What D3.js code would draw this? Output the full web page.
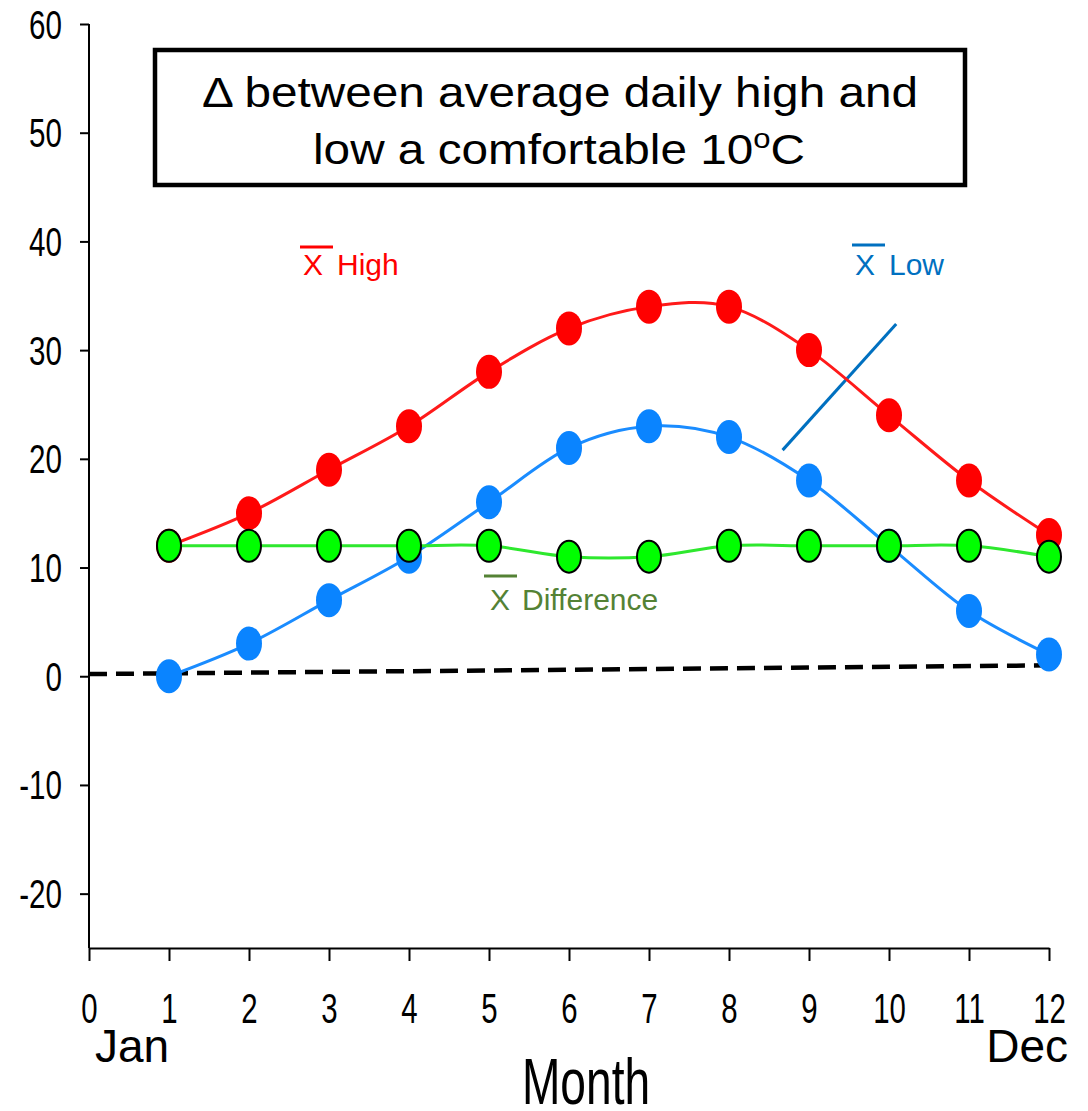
<!DOCTYPE html>
<html>
<head>
<meta charset="utf-8">
<script src="https://cdn.jsdelivr.net/npm/d3@7"></script>
<style>
  body { margin: 0; background: #fff; }
  svg { display: block; }
  text { font-family: "Liberation Sans", Arial, sans-serif; }
</style>
</head>
<body>
<div id="chart"></div>
<script>
// month index 1..12
const months = [1, 2, 3, 4, 5, 6, 7, 8, 9, 10, 11, 12];
const highs = [12, 15, 19, 23, 28, 32, 34, 34, 30, 24, 18, 13];
const lows = [0, 3, 7, 11, 16, 21, 23, 22, 18, 12, 6, 2];
const diffs = [12, 12, 12, 12, 12, 11, 11, 12, 12, 12, 12, 11];
// dashed trend line end points
const trendX = [0, 12];
const trendY = [0.2, 1.0];
// pointer line next to the "Low" label
const pointerX = [8.67, 10.09];
const pointerY = [20.8, 32.4];
const xTicks = [0, 1, 2, 3, 4, 5, 6, 7, 8, 9, 10, 11, 12];
const yTicks = [-20, -10, 0, 10, 20, 30, 40, 50, 60];

const width = 1088,
    height = 1111;

const svg = d3.select('#chart').append('svg')
    .attr('width', width)
    .attr('height', height);

const x = d3.scaleLinear().domain([0, 12]).range([89, 1049]);
const y = d3.scaleLinear().domain([-25, 60]).range([948, 24]);

// condensed text helper (narrow look of the original)
function narrow(sel, px, py, sx) {
    sel.attr('transform', `translate(${px},${py}) scale(${sx},1)`);
}

// y axis
const yAxis = svg.append('g')
    .attr('transform', `translate(${x(0)},0)`)
    .call(d3.axisLeft(y).tickValues(yTicks).tickSize(9).tickSizeOuter(0).tickFormat(d3.format('d')));
yAxis.select('.domain').attr('stroke', '#000').attr('stroke-width', 2)
    .attr('d', `M0,${y(60)}V${y(-25)}`);
yAxis.selectAll('.tick line').attr('stroke', '#000').attr('stroke-width', 2);
yAxis.selectAll('.tick text').remove();
yAxis.selectAll('.tick').append('text')
    .attr('text-anchor', 'end')
    .attr('dy', '0.35em')
    .attr('fill', '#000')
    .style('font-size', '40px')
    .text(d => d)
    .each(function () { narrow(d3.select(this), -27, 0, 0.74); });

// x axis
const xAxis = svg.append('g')
    .attr('transform', `translate(0,${y(-25)})`)
    .call(d3.axisBottom(x).tickValues(xTicks).tickSize(13).tickSizeOuter(0).tickFormat(d3.format('d')));
xAxis.select('.domain').attr('stroke', '#000').attr('stroke-width', 2);
xAxis.selectAll('.tick line').attr('stroke', '#000').attr('stroke-width', 2);
xAxis.selectAll('.tick text').remove();
xAxis.selectAll('.tick').append('text')
    .attr('text-anchor', 'middle')
    .attr('fill', '#000')
    .style('font-size', '42px')
    .text(d => d)
    .each(function () { narrow(d3.select(this), 0, 75, 0.7); });

svg.append('text').attr('x', 95).attr('y', 1062)
    .style('font-size', '46px').text('Jan');
svg.append('text').attr('x', 1068).attr('y', 1062)
    .attr('text-anchor', 'end')
    .style('font-size', '46px').text('Dec');
svg.append('text')
    .attr('text-anchor', 'middle')
    .style('font-size', '65px')
    .text('Month')
    .call(narrow, 586, 1104, 0.71);

// cut-off y axis title at the left edge
svg.append('text')
    .attr('transform', `translate(3,450) rotate(-90)`)
    .attr('text-anchor', 'middle')
    .attr('fill', '#bbb')
    .style('font-size', '40px')
    .text('°');

// title box
svg.append('rect')
    .attr('x', 155).attr('y', 50)
    .attr('width', 810).attr('height', 135)
    .attr('fill', '#fff').attr('stroke', '#000').attr('stroke-width', 4.5);
svg.append('text').attr('x', 560).attr('y', 107)
    .attr('text-anchor', 'middle')
    .attr('textLength', 716).attr('lengthAdjust', 'spacingAndGlyphs')
    .style('font-size', '43px')
    .text('Δ between average daily high and');
const t2 = svg.append('text').attr('x', 313).attr('y', 164)
    .style('font-size', '43px');
t2.append('tspan').text('low a comfortable 10');
t2.append('tspan').attr('dy', -16).style('font-size', '28px').text('o');
t2.append('tspan').attr('dy', 16).text('C');
t2.attr('textLength', 492).attr('lengthAdjust', 'spacingAndGlyphs');

// dashed trend line
svg.append('path')
    .datum(trendX.map((d, i) => [d, trendY[i]]))
    .attr('fill', 'none')
    .attr('stroke', '#000')
    .attr('stroke-width', 4.5)
    .attr('stroke-dasharray', '18,9')
    .attr('d', d3.line().x(d => x(d[0])).y(d => y(d[1])));

// pointer line
svg.append('path')
    .datum(pointerX.map((d, i) => [d, pointerY[i]]))
    .attr('stroke', '#0070C0')
    .attr('stroke-width', 3)
    .attr('d', d3.line().x(d => x(d[0])).y(d => y(d[1])));

const line = d3.line()
    .curve(d3.curveCatmullRom.alpha(0))
    .x(d => x(d[0]))
    .y(d => y(d[1]));

const series = [
    { vals: highs, line: '#ff1a1a', fill: '#ff0000', stroke: 'none' },
    { vals: lows, line: '#1a8cff', fill: '#0a84ff', stroke: 'none' },
    { vals: diffs, line: '#2ee82e', fill: '#00ff00', stroke: '#000' }
];

series.forEach(s => {
    const pts = months.map((m, i) => [m, s.vals[i]]);
    svg.append('path')
        .datum(pts)
        .attr('fill', 'none')
        .attr('stroke', s.line)
        .attr('stroke-width', 3)
        .attr('d', line);
    svg.append('g').selectAll('ellipse')
        .data(pts)
        .join('ellipse')
        .attr('cx', d => x(d[0]))
        .attr('cy', d => y(d[1]))
        .attr('rx', s.stroke === 'none' ? 13 : 12)
        .attr('ry', s.stroke === 'none' ? 17 : 16)
        .attr('fill', s.fill)
        .attr('stroke', s.stroke)
        .attr('stroke-width', 2);
});

// series labels with x-bar
const labels = [
    { x: 303, y: 275, bar: [300, 333, 247], word: 'High', wx: 337, color: '#ff0000' },
    { x: 855, y: 275, bar: [852, 885, 245], word: 'Low', wx: 889, color: '#0070C0' },
    { x: 490, y: 610, bar: [484, 517, 576], word: 'Difference', wx: 522, color: '#548235' }
];
labels.forEach(l => {
    svg.append('line')
        .attr('x1', l.bar[0]).attr('x2', l.bar[1])
        .attr('y1', l.bar[2]).attr('y2', l.bar[2])
        .attr('stroke', l.color).attr('stroke-width', 3);
    svg.append('text').attr('x', l.x).attr('y', l.y)
        .attr('fill', l.color).style('font-size', '30px').text('X');
    svg.append('text').attr('x', l.wx).attr('y', l.y)
        .attr('fill', l.color).style('font-size', '30px').text(l.word);
});
</script>
</body>
</html>
